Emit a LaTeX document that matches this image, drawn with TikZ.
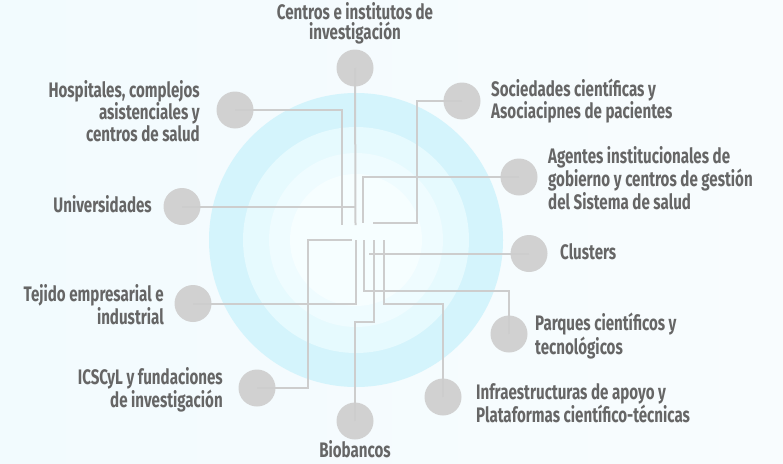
\documentclass[tikz,border=0pt]{standalone}
\usepackage{fontspec}
\setmainfont{Fira Sans}[FakeStretch=0.72]
\definecolor{bgL}{HTML}{F2FBFE}
\definecolor{bgR}{HTML}{F8FCFE}
\definecolor{ringA}{HTML}{D4F4FC}
\definecolor{ringB}{HTML}{E6FAFE}
\definecolor{ringC}{HTML}{EFFCFF}
\definecolor{ringD}{HTML}{F6FEFF}
\definecolor{dotgray}{HTML}{D1D1D1}
\definecolor{wiregray}{HTML}{CDCDCD}
\definecolor{textgray}{HTML}{666666}
\begin{document}
\begin{tikzpicture}[x=1pt,y=-1pt,
  dot/.style={circle, fill=dotgray, minimum size=37pt, inner sep=0pt},
  lbl/.style={text=textgray, inner sep=0pt, font=\bfseries\fontsize{21}{17.2}\selectfont},
  wire/.style={draw=wiregray, line width=2pt}]
\useasboundingbox (0,0) rectangle (783,463);
\shade[left color=bgL, right color=bgR] (0,0) rectangle (783,463);
% rings
\fill[ringA] (356,240) circle[radius=147];
\fill[ringB] (356,240) circle[radius=113];
\fill[ringC] (356,240) circle[radius=87];
\fill[ringD] (356,240) circle[radius=66];
% circles
\node[dot] (cen) at (355,68) {};
\node[dot] (hos) at (235,110) {};
\node[dot] (soc) at (462,101) {};
\node[dot] (age) at (519,177) {};
\node[dot] (uni) at (182,206.5) {};
\node[dot] (clu) at (529,253.5) {};
\node[dot] (tej) at (193,303.5) {};
\node[dot] (par) at (509,334) {};
\node[dot] (ics) at (257,388) {};
\node[dot] (inf) at (443,397) {};
\node[dot] (bio) at (355,421) {};
% coordinates
\coordinate (cenend) at (355.5,225);
\coordinate (hosend) at (342,225);
\coordinate (unipt) at (355.5,206.5);
\coordinate (socb) at (417,222.5);
\coordinate (socend) at (373,222.5);
\coordinate (ageend) at (363,223);
\coordinate (cluend) at (369,253.5);
\coordinate (parb) at (364,290.5);
\coordinate (parend) at (364,240);
\coordinate (infb) at (383.5,303.5);
\coordinate (infend) at (383.5,240);
\coordinate (biob) at (373.5,321.5);
\coordinate (bioend) at (373.5,240);
\coordinate (tejend) at (356,240);
\coordinate (icsb) at (308,240);
\coordinate (icsend) at (352,240);
% wires
\draw[wire] (cen.center) -- (cenend);
\draw[wire] (hos.center) -| (hosend);
\draw[wire] (uni.center) -- (unipt);
\draw[wire] (soc.center) -| (socb) -- (socend);
\draw[wire] (age.center) -| (ageend);
\draw[wire] (clu.center) -- (cluend);
\draw[wire] (par.center) |- (parb) -- (parend);
\draw[wire] (inf.center) |- (infb) -- (infend);
\draw[wire] (bio.center) |- (biob) -- (bioend);
\draw[wire] (tej.center) -| (tejend);
\draw[wire] (ics.center) -| (icsb) -- (icsend);
% labels
\node[lbl, align=center] (tcen) at (355,23) {Centros e institutos de\\[1pt]investigación};
\node[lbl, align=right, anchor=east] (thos) at (200,111) {Hospitales, complejos\\asistenciales y\\centros de salud};
\node[lbl, anchor=east] (tuni) at (152,204) {Universidades};
\node[lbl, align=left, anchor=west] (tsoc) at (491,101) {Sociedades científicas y\\Asociacipnes de pacientes};
\node[lbl, align=left, anchor=west] (tage) at (548,178) {Agentes institucionales de\\gobierno y centros de gestión\\del Sistema de salud};
\node[lbl, anchor=west] (tclu) at (560,252) {Clusters};
\node[lbl, align=right, anchor=east] (ttej) at (164,305) {Tejido empresarial e\\industrial};
\node[lbl, align=left, anchor=west] (tpar) at (535,336) {Parques científicos y\\tecnológicos};
\node[lbl, align=right, anchor=east] (tics) at (223,390) {ICSCyL y fundaciones\\de investigación};
\node[lbl, align=left, anchor=west] (tinf) at (476,403) {Infraestructuras de apoyo y\\Plataformas científico-técnicas};
\node[lbl] (tbio) at (355,449) {Biobancos};
\end{tikzpicture}
\end{document}
